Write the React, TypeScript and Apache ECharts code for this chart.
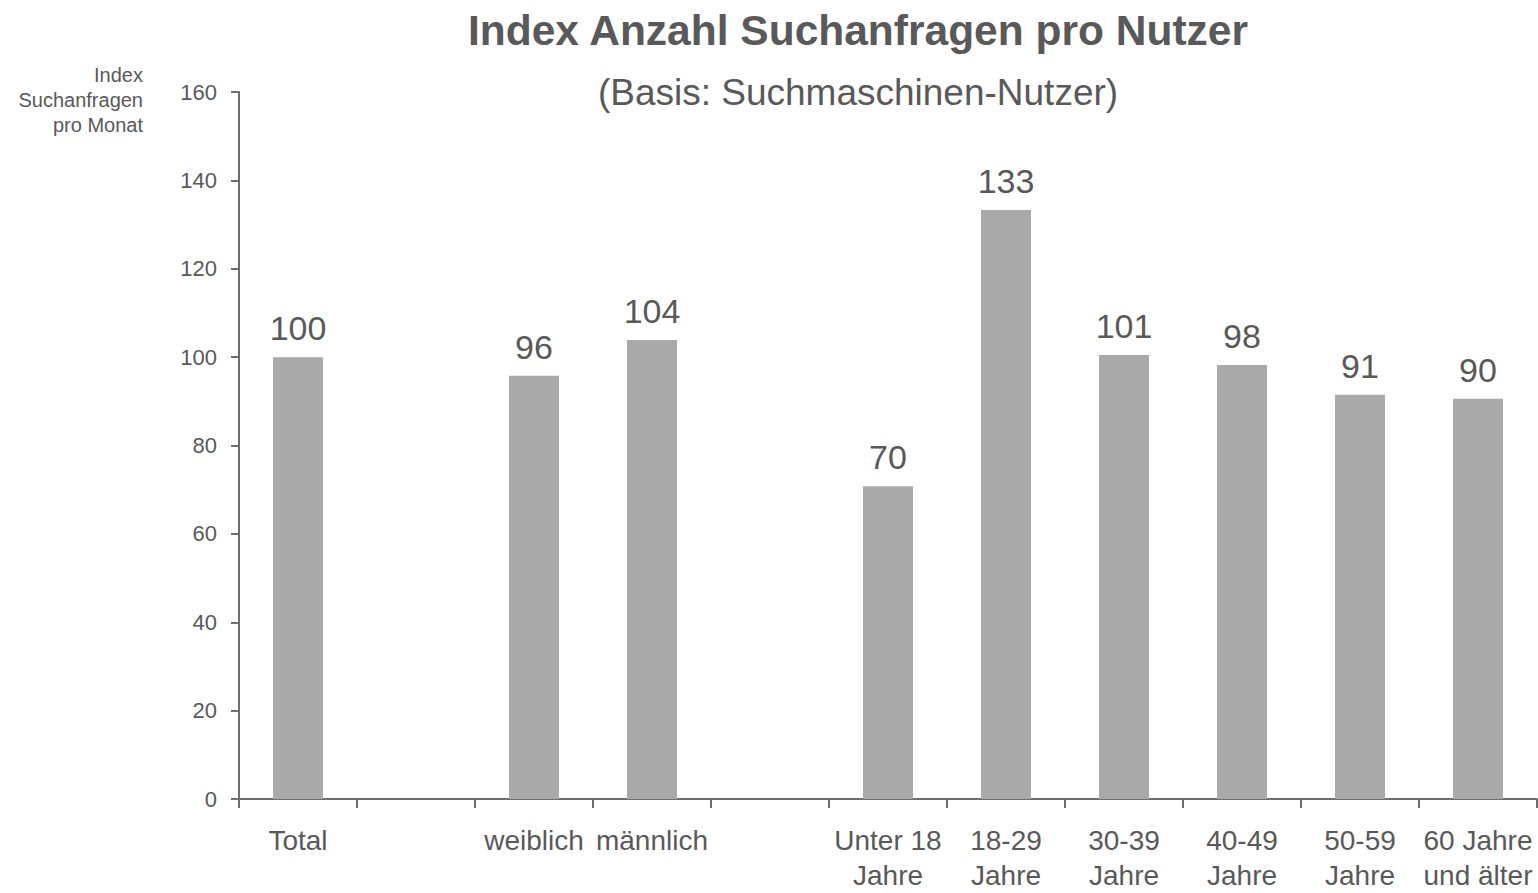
import React, { useEffect, useRef } from "react";
import * as echarts from "echarts";

const categories = [
  "Total",
  "",
  "weiblich",
  "männlich",
  "",
  "Unter 18\nJahre",
  "18-29\nJahre",
  "30-39\nJahre",
  "40-49\nJahre",
  "50-59\nJahre",
  "60 Jahre\nund älter",
];
const values: (number | null)[] = [100, null, 95.8, 103.9, null, 70.8, 133.3, 100.5, 98.2, 91.5, 90.6];
const valueLabels = ["100", "", "96", "104", "", "70", "133", "101", "98", "91", "90"];
const yTicks = { min: 0, max: 160, interval: 20 };

const TEXT = "#595959";
const AXIS = "#6e6e6e";
const BAR = "#a9a9a9";
const FONT = "'Liberation Sans', Arial, sans-serif";

export default function App() {
  const ref = useRef<HTMLDivElement>(null);
  useEffect(() => {
    if (!ref.current) return;
    const chart = echarts.init(ref.current, undefined, { renderer: "svg" });
    const h = ref.current.clientHeight || 893;
    chart.setOption({
      animation: false,
      backgroundColor: "#ffffff",
      textStyle: { fontFamily: FONT },
      grid: { left: 239, right: 1, top: 92, height: 712, containLabel: false },
      graphic: [
        {
          type: "text",
          x: 858,
          y: 30,
          style: {
            text: "Index Anzahl Suchanfragen pro Nutzer",
            fill: TEXT,
            font: `bold 42.5px ${FONT}`,
            textAlign: "center",
            textVerticalAlign: "middle",
          },
        },
        {
          type: "text",
          x: 858,
          y: 92,
          style: {
            text: "(Basis: Suchmaschinen-Nutzer)",
            fill: TEXT,
            font: `37px ${FONT}`,
            textAlign: "center",
            textVerticalAlign: "middle",
          },
        },
        {
          type: "text",
          x: 143,
          y: 100,
          style: {
            text: "Index\nSuchanfragen\npro Monat",
            fill: TEXT,
            font: `20px ${FONT}`,
            lineHeight: 25,
            textAlign: "right",
            textVerticalAlign: "middle",
          },
        },
      ],
      xAxis: {
        type: "category",
        data: categories,
        axisLine: { show: true, lineStyle: { color: AXIS, width: 2 } },
        axisTick: { show: true, length: 9, interval: 0, lineStyle: { color: AXIS, width: 2 } },
        axisLabel: {
          interval: 0,
          color: TEXT,
          fontSize: 28,
          lineHeight: 35,
          margin: 24,
          fontFamily: FONT,
        },
        splitLine: { show: false },
      },
      yAxis: {
        type: "value",
        min: yTicks.min,
        max: yTicks.max,
        interval: yTicks.interval,
        axisLine: { show: true, lineStyle: { color: AXIS, width: 2 } },
        axisTick: { show: true, length: 8, lineStyle: { color: AXIS, width: 2 } },
        axisLabel: { color: TEXT, fontSize: 22, margin: 22, fontFamily: FONT },
        splitLine: { show: false },
      },
      series: [
        {
          type: "bar",
          data: values,
          barWidth: 50,
          itemStyle: { color: BAR },
          label: {
            show: true,
            position: "top",
            distance: 12,
            color: TEXT,
            fontSize: 34,
            fontFamily: FONT,
            formatter: (p: any) => valueLabels[p.dataIndex],
          },
        },
      ],
    });
    void h;
    return () => chart.dispose();
  }, []);
  return (
    <div
      ref={ref}
      style={{ position: "fixed", left: 0, top: 0, width: 1538, height: 893 }}
    />
  );
}
